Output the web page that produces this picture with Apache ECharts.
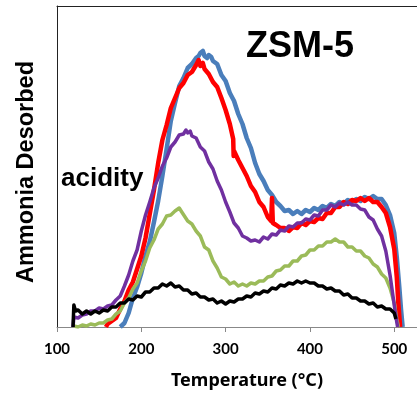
<!DOCTYPE html>
<html><head><meta charset="utf-8">
<script src="https://cdn.jsdelivr.net/npm/echarts@6/dist/echarts.min.js"></script>
<style>html,body{margin:0;padding:0;background:#fff}#c{width:417px;height:393px}</style>
</head><body><div id="c"></div>
<script>
const xTicks = [100, 200, 300, 400, 500];
const seriesNames = ['Blue', 'Red', 'Green', 'Purple', 'Black'];
const blue = [[175,0],[180,4],[185,14],[190,29],[195,40],[200,54],[205,71],[210,85],[215,105],[220,126],[225,151],[230,178],[235,206],[240,224],[245,241],[250,249],[255,259],[260,263],[265,269],[268,271],[270,274],[273,276],[275,271],[278,269],[280,272],[283,270],[285,266],[290,263],[295,252],[300,246],[305,234],[310,226],[315,213],[320,203],[325,189],[330,179],[335,164],[340,153],[345,146],[350,137],[355,132],[360,125],[365,121],[370,116],[375,117],[380,113],[385,116],[390,113],[395,117],[400,115],[405,119],[410,117],[415,121],[420,119],[425,123],[430,121],[435,125],[440,123],[445,127],[450,125],[455,128],[460,126],[465,130],[470,128],[475,131],[480,128],[485,128],[490,122],[495,112],[500,94],[503,70],[506,40],[508,18],[510,0]];
const red = [[158,0],[160,3],[165,6],[170,9],[175,18],[180,26],[185,37],[190,45],[195,58],[200,71],[205,89],[210,113],[215,137],[220,164],[225,187],[230,202],[235,219],[240,229],[245,239],[250,244],[255,252],[260,255],[265,262],[268,267],[270,261],[273,264],[275,258],[280,253],[285,245],[290,240],[295,229],[300,217],[305,203],[309,188],[309.5,171],[310,176],[315,167],[320,159],[325,151],[330,141],[335,135],[340,125],[345,120],[350,110],[354,106],[355,129],[356,104],[360,102],[365,99],[370,99],[375,96],[380,100],[385,99],[390,104],[395,102],[400,106],[405,105],[410,109],[415,108],[420,114],[425,114],[430,120],[435,120],[440,125],[445,123],[450,127],[455,126],[460,129],[465,126],[470,129],[475,125],[480,125],[485,120],[490,114],[495,100],[500,78],[503,50],[505,22],[507,0]];
const purple = [[119,0],[120,10],[125,9],[130,12],[135,13],[140,16],[145,16],[150,19],[155,18],[160,21],[165,22],[170,27],[175,31],[180,41],[185,52],[190,66],[195,77],[200,96],[205,112],[210,125],[215,139],[220,149],[225,161],[230,169],[235,180],[240,185],[245,192],[250,193],[253,197],[255,194],[258,196],[260,191],[265,189],[270,180],[275,176],[280,165],[285,158],[290,146],[295,137],[300,125],[305,115],[310,104],[315,99],[320,91],[325,89],[330,86],[335,87],[340,85],[345,90],[350,88],[355,93],[360,92],[365,97],[370,96],[375,101],[380,100],[385,104],[390,104],[395,108],[400,107],[405,112],[410,111],[415,117],[420,117],[425,122],[430,120],[435,124],[440,122],[445,125],[450,122],[455,122],[460,118],[465,117],[470,110],[475,107],[480,98],[485,91],[490,76],[495,52],[500,22],[503,5],[504,0]];
const green = [[120,1],[125,0],[130,2],[135,1],[140,3],[145,2],[150,4],[155,4],[160,7],[165,8],[170,13],[175,16],[180,24],[185,29],[190,38],[195,44],[200,56],[205,66],[210,79],[215,87],[220,98],[225,103],[230,111],[235,112],[240,116],[245,119],[248,115],[250,116],[255,106],[260,103],[265,96],[270,91],[275,80],[280,77],[285,66],[290,59],[295,50],[300,48],[305,43],[310,45],[315,41],[320,43],[325,41],[330,44],[335,43],[340,46],[345,46],[350,50],[355,51],[360,56],[365,57],[370,61],[375,61],[380,66],[385,66],[390,71],[395,72],[400,77],[405,77],[410,81],[415,81],[420,85],[425,85],[430,88],[435,85],[440,85],[445,80],[450,80],[455,76],[460,76],[465,71],[470,69],[475,63],[480,60],[485,53],[490,49],[495,39],[500,24],[503,8],[505,0]];
const black = [[119,0],[120,22],[122,16],[125,17],[130,13],[135,16],[140,13],[145,16],[150,14],[155,17],[160,16],[165,20],[170,20],[175,24],[180,24],[185,28],[190,27],[195,31],[200,30],[205,35],[210,35],[215,39],[220,39],[225,43],[230,41],[235,44],[240,40],[245,41],[250,37],[255,37],[260,33],[265,34],[270,30],[275,30],[280,27],[285,28],[290,24],[295,26],[300,23],[305,26],[310,25],[315,28],[320,28],[325,31],[330,30],[335,34],[340,33],[345,36],[350,35],[355,39],[360,38],[365,42],[370,41],[375,44],[380,43],[385,46],[390,44],[395,46],[400,44],[405,44],[410,41],[415,41],[420,38],[425,39],[430,36],[435,36],[440,32],[445,33],[450,29],[455,29],[460,26],[465,26],[470,23],[475,24],[480,20],[485,21],[490,18],[495,18],[500,14],[502,8]];

const chart = echarts.init(document.getElementById('c'), null, {renderer: 'canvas'});
const mk = (name, data, color, w) => ({
  name, type: 'line', data, symbol: 'none', smooth: false, animation: false,
  lineStyle: {color, width: w, join: 'round'}, clip: true
});
chart.setOption({
  animation: false,
  backgroundColor: '#fff',
  grid: {left: 57, top: 6, right: 0, bottom: 66, containLabel: false},
  xAxis: [{
    type: 'value', min: 100, max: 527, interval: 100, position: 'bottom',
    axisLine: {lineStyle: {color: '#888', width: 1}},
    axisTick: {show: true, inside: false, length: 5, lineStyle: {color: '#888'}},
    axisLabel: {margin: 15, fontFamily: 'Lato', fontWeight: 'bold', fontSize: 15, color: '#000',
      showMaxLabel: false,
      formatter: v => xTicks.includes(v) ? String(v) : ''},
    splitLine: {show: false}
  }, {
    type: 'value', min: 100, max: 527, position: 'top',
    axisLine: {show: true, lineStyle: {color: '#222', width: 1}},
    axisTick: {show: false}, axisLabel: {show: false}, splitLine: {show: false}
  }],
  yAxis: {
    type: 'value', min: 0, max: 321,
    axisLine: {show: true, lineStyle: {color: '#222', width: 1}},
    axisTick: {show: false}, axisLabel: {show: false}, splitLine: {show: false}
  },
  series: [
    mk(seriesNames[0], blue, '#4A7EBB', 4.5),
    mk(seriesNames[1], red, '#FF0000', 4.5),
    mk(seriesNames[2], green, '#9BBB59', 3.5),
    mk(seriesNames[3], purple, '#7030A0', 3.5),
    mk(seriesNames[4], black, '#000000', 3.5)
  ],
  graphic: [
    {type: 'text', z: 100, style: {text: 'ZSM-5', x: 300, y: 47, textAlign: 'center', textVerticalAlign: 'middle',
      font: 'bold 36px "Liberation Sans"', fill: '#000'}},
    {type: 'text', z: 100, style: {text: 'acidity', x: 61, y: 179, textAlign: 'left', textVerticalAlign: 'middle',
      font: 'bold 26px "Liberation Sans"', fill: '#000'}},
    {type: 'text', z: 100, x: 27, y: 172, rotation: Math.PI / 2,
      style: {text: 'Ammonia Desorbed', x: 0, y: 0, textAlign: 'center', textVerticalAlign: 'middle',
      font: 'bold 23.5px "Liberation Sans"', fill: '#000'}},
    {type: 'text', z: 100, style: {text: 'Temperature (°C)', x: 247, y: 381, textAlign: 'center', textVerticalAlign: 'middle',
      font: 'bold 18px "Noto Sans"', fill: '#000'}}
  ]
});
</script></body></html>
